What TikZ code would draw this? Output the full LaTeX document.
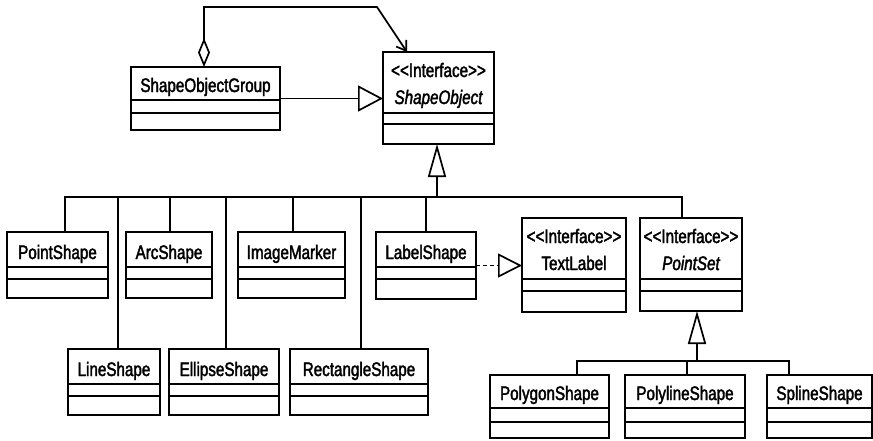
\documentclass[tikz,border=0pt]{standalone}
\usepackage{fontspec}
\setmainfont{Liberation Sans}[FakeStretch=0.78, FakeBold=2]
\usetikzlibrary{arrows.meta}

\tikzset{
  classbox/.style={draw, line width=2pt, inner sep=0pt, outer sep=0pt},
  classline/.style={line width=1.8pt},
  classtext/.style={inner sep=0pt, anchor=base, font=\fontsize{19.5}{23}\selectfont},
  wire/.style={line width=1.7pt},
  gen/.style={wire, -{Triangle[open, length=33pt, width=18pt, line width=1.7pt]}},
  genwide/.style={wire, -{Triangle[open, length=25pt, width=26pt, line width=1.7pt]}},
  real/.style={wire, dash pattern=on 4pt off 3pt,
    -{Triangle[open, length=24pt, width=24pt, line width=1.7pt]}},
  assoc/.style={wire,
    {Diamond[open, length=29pt, width=12pt, line width=1.7pt]}-{Straight Barb[length=9pt, width=12pt, line width=1.7pt]}}
}

% class box: name, x1, y1, x2, y2, first and second compartment line, title
\newcommand\umlClass[8]{%
  \node[classbox, minimum width={(#4-#2)*1pt}, minimum height={(#5-#3)*1pt}]
    (#1) at ({(#2+#4)/2},{(#3+#5)/2}) {};
  \node[classtext] (#1-title) at ({(#2+#4)/2},{#6-8}) {#8};
  \draw[classline] (#1.west |- 0,#6) -- (#1.east |- 0,#6)
                   (#1.west |- 0,#7) -- (#1.east |- 0,#7);
}
% interface box: same, with a stereotype line above the title
\newcommand\umlIface[8]{%
  \node[classbox, minimum width={(#4-#2)*1pt}, minimum height={(#5-#3)*1pt}]
    (#1) at ({(#2+#4)/2},{(#3+#5)/2}) {};
  \node[classtext] (#1-stereo) at ({(#2+#4)/2},{#3+25})
    {<\kern0pt<Interface>\kern0pt>};
  \node[classtext] (#1-title) at ({(#2+#4)/2},{#3+52}) {#8};
  \draw[classline] (#1.west |- 0,#6) -- (#1.east |- 0,#6)
                   (#1.west |- 0,#7) -- (#1.east |- 0,#7);
}

\begin{document}
\begin{tikzpicture}[x=1pt, y=-1pt]
\useasboundingbox (0,0) rectangle (873,440);

% top row
\umlClass{SOG}{131}{67}{280}{130}{100}{113}{ShapeObjectGroup}
\umlIface{SO}{383}{52}{494}{144}{113}{124}{\itshape ShapeObject}

% middle row
\umlClass{PointShape}{7}{232}{108}{298}{267}{279}{PointShape}
\umlClass{ArcShape}{126}{232}{212}{298}{267}{279}{ArcShape}
\umlClass{ImageMarker}{238}{232}{345}{298}{267}{279}{ImageMarker}
\umlClass{LabelShape}{376}{232}{476}{299}{267}{279}{LabelShape}
\umlIface{TextLabel}{522}{218}{626}{312}{279}{291}{TextLabel}
\umlIface{PointSet}{640}{218}{742}{311}{279}{291}{\itshape PointSet}

% lower row
\umlClass{LineShape}{68}{349}{160}{415}{384}{396}{LineShape}
\umlClass{EllipseShape}{169}{349}{279}{415}{384}{396}{EllipseShape}
\umlClass{RectangleShape}{290}{349}{428}{415}{384}{396}{RectangleShape}

% bottom row
\umlClass{PolygonShape}{490}{375}{609}{438}{408}{422}{PolygonShape}
\umlClass{PolylineShape}{625}{375}{745}{438}{408}{422}{PolylineShape}
\umlClass{SplineShape}{767}{375}{872}{438}{408}{422}{SplineShape}

% junctions of the inheritance trees
\coordinate (hub) at (437,197);
\coordinate (hub2) at (697,361);
% corners of the aggregation link
\coordinate (loopA) at (204,7);
\coordinate (loopB) at (377,7);

% aggregation from the group back to ShapeObject
\draw[assoc] ([xshift=-1.5pt]SOG.north) -- (loopA) -- (loopB) -- ([xshift=-31.5pt]SO.north);

% ShapeObjectGroup implements ShapeObject
\draw[genwide] (SOG.east) -- (SOG.east -| SO.west);

% subclasses of ShapeObject
\draw[gen] (hub) -- (hub |- SO.south);
\draw[wire] ([xshift=7.5pt]PointShape.north) |- (hub);
\draw[wire] ([xshift=4pt]LineShape.north) |- (hub);
\draw[wire] ([xshift=1pt]ArcShape.north) |- (hub);
\draw[wire] ([xshift=2pt]EllipseShape.north) |- (hub);
\draw[wire] ([xshift=1.5pt]ImageMarker.north) |- (hub);
\draw[wire] ([xshift=2pt]RectangleShape.north) |- (hub);
\draw[wire] (LabelShape.north) |- (hub);
\draw[wire] ([xshift=-9pt]PointSet.north) |- (hub);

% LabelShape realizes TextLabel
\draw[real] (LabelShape.east) -- (LabelShape.east -| TextLabel.west);

% subclasses of PointSet
\draw[gen] (hub2) -- (hub2 |- PointSet.south);
\draw[wire] ([xshift=27.5pt]PolygonShape.north) |- (hub2);
\draw[wire] ([xshift=2pt]PolylineShape.north) |- (hub2);
\draw[wire] ([xshift=-30.5pt]SplineShape.north) |- (hub2);
\end{tikzpicture}
\end{document}
